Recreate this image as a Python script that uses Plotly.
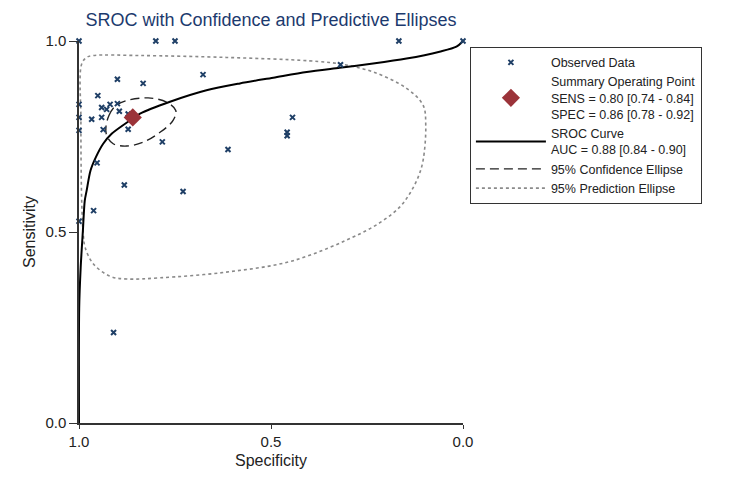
import plotly.graph_objects as go

# Observed study data (specificity, sensitivity)
obs_spec = [1.000, 0.800, 0.750, 0.167, 0.000, 0.319, 0.677, 0.900, 0.833, 0.951,
            1.000, 0.941, 0.928, 0.919, 0.900, 0.895, 0.872, 1.000, 0.967, 0.941,
            0.444, 1.000, 0.937, 0.872, 0.458, 0.458, 0.783, 0.612, 0.953, 0.882,
            0.729, 0.962, 1.000, 0.910]
obs_sens = [1.000, 1.000, 1.000, 1.000, 1.000, 0.938, 0.912, 0.900, 0.889, 0.857,
            0.834, 0.826, 0.821, 0.834, 0.836, 0.816, 0.809, 0.800, 0.795, 0.800,
            0.800, 0.766, 0.768, 0.769, 0.761, 0.752, 0.736, 0.716, 0.681, 0.623,
            0.606, 0.556, 0.528, 0.237]

# Summary operating point
sum_spec = [0.86]
sum_sens = [0.80]

# SROC curve
sroc_spec = [1.000, 0.9995, 0.9956, 0.990, 0.985, 0.980, 0.970, 0.956, 0.937, 0.915,
             0.863, 0.841, 0.763, 0.668, 0.581, 0.494, 0.407, 0.321, 0.234, 0.147,
             0.061, 0.017, 0.000]
sroc_sens = [0.000, 0.300, 0.408, 0.501, 0.582, 0.609, 0.661, 0.696, 0.731, 0.757,
             0.795, 0.810, 0.841, 0.871, 0.889, 0.904, 0.919, 0.930, 0.941, 0.954,
             0.972, 0.985, 1.000]

# 95% confidence ellipse boundary
conf_spec = [0.930, 0.922, 0.905, 0.876, 0.820, 0.772, 0.748, 0.755, 0.789, 0.833, 0.876,
             0.911, 0.928, 0.930]
conf_sens = [0.774, 0.805, 0.830, 0.844, 0.851, 0.840, 0.818, 0.792, 0.761, 0.735, 0.725,
             0.731, 0.753, 0.774]

# 95% prediction ellipse boundary
pred_spec = [0.993, 0.995, 0.993, 0.980, 0.963, 0.841, 0.616, 0.400, 0.321, 0.234,
             0.147, 0.104, 0.097, 0.104, 0.117, 0.139, 0.165, 0.208, 0.269, 0.442,
             0.616, 0.789, 0.876, 0.919, 0.963, 0.984, 0.989, 0.993]
pred_sens = [0.582, 0.792, 0.940, 0.957, 0.962, 0.962, 0.957, 0.948, 0.940, 0.919,
             0.876, 0.832, 0.780, 0.687, 0.643, 0.600, 0.565, 0.530, 0.495, 0.425,
             0.395, 0.380, 0.377, 0.384, 0.417, 0.460, 0.495, 0.582]

tick_vals = [0.0, 0.5, 1.0]
tick_text = ["0.0", "0.5", "1.0"]

FONT = "Liberation Sans, Arial, sans-serif"

fig = go.Figure()

fig.add_trace(go.Scatter(
    x=pred_spec, y=pred_sens, mode="lines", name="95% Prediction Ellipse",
    line=dict(color="#8a8a8a", width=1.6, dash="dot", shape="spline", smoothing=1.0),
    legendrank=5, cliponaxis=False))
fig.add_trace(go.Scatter(
    x=conf_spec, y=conf_sens, mode="lines", name="95% Confidence Ellipse",
    line=dict(color="#222222", width=1.4, dash="9px,5px", shape="spline", smoothing=1.0),
    legendrank=4, cliponaxis=False))
fig.add_trace(go.Scatter(
    x=sroc_spec, y=sroc_sens, mode="lines",
    name="SROC Curve<br>AUC = 0.88 [0.84 - 0.90]",
    line=dict(color="#000000", width=2, shape="spline", smoothing=0.8),
    legendrank=3, cliponaxis=False))
fig.add_trace(go.Scatter(
    x=obs_spec, y=obs_sens, mode="markers", name="Observed Data",
    marker=dict(symbol="x-thin", size=5, color="#1f3f66",
                line=dict(color="#1f3f66", width=2)),
    legendrank=1, cliponaxis=False))
fig.add_trace(go.Scatter(
    x=sum_spec, y=sum_sens, mode="markers",
    name="Summary Operating Point<br>SENS = 0.80 [0.74 - 0.84]<br>SPEC = 0.86 [0.78 - 0.92]",
    marker=dict(symbol="diamond", size=14, color="#9b3339"),
    legendrank=2, cliponaxis=False))

fig.update_layout(
    width=734, height=489,
    margin=dict(l=79, r=271, t=41, b=66, autoexpand=False),
    paper_bgcolor="white", plot_bgcolor="white",
    font=dict(family=FONT, color="#222222"),
    title=dict(text="SROC with Confidence and Predictive Ellipses",
               x=(79 + 192) / 734, xanchor="center", y=1 - 20 / 489, yanchor="middle",
               font=dict(size=18, color="#1c3a6e", family=FONT)),
    showlegend=True,
    legend=dict(x=1.018, y=0.985, xanchor="left", yanchor="top",
                bordercolor="#333333", borderwidth=1, bgcolor="white",
                font=dict(size=12.5, family=FONT, color="#222222"),
                itemwidth=70, tracegroupgap=0, traceorder="normal"),
)

fig.update_xaxes(
    range=[1, 0], tickvals=tick_vals, ticktext=tick_text,
    showgrid=False, zeroline=False, showline=True, linecolor="#333333", linewidth=1.5,
    ticks="outside", ticklen=4, tickcolor="#333333", tickwidth=1.2,
    tickfont=dict(size=15, family=FONT, color="#222222"),
    title=dict(text="Specificity", font=dict(size=16, family=FONT, color="#222222"), standoff=6),
    mirror=False, fixedrange=True)
fig.update_yaxes(
    range=[0, 1], tickvals=tick_vals, ticktext=tick_text,
    showgrid=False, zeroline=False, showline=True, linecolor="#333333", linewidth=1.5,
    ticks="outside", ticklen=8, tickcolor="#333333", tickwidth=1.2,
    tickfont=dict(size=15, family=FONT, color="#222222"),
    title=dict(text="Sensitivity", font=dict(size=16, family=FONT, color="#222222"), standoff=6),
    mirror=False, fixedrange=True)

fig.write_html("out.html", config={"displayModeBar": False},
               post_script="document.body.style.margin='0';")
